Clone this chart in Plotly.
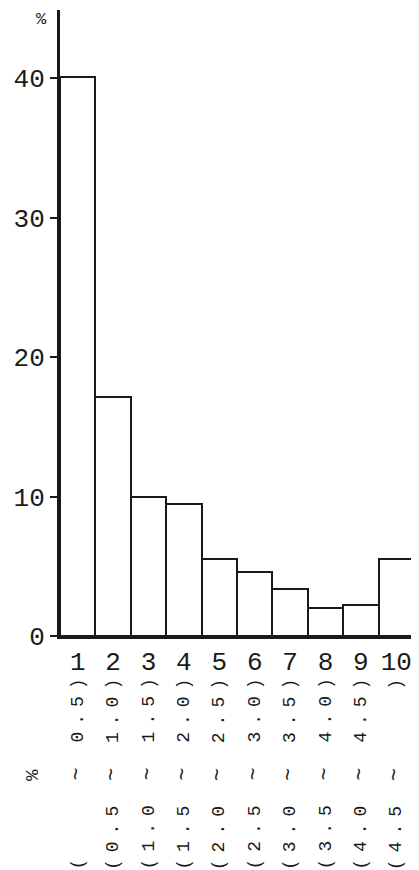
import plotly.graph_objects as go

# class number and share of each class (%)
classes = [1, 2, 3, 4, 5, 6, 7, 8, 9, 10]
share = [40.1, 17.15, 10.0, 9.45, 5.5, 4.6, 3.4, 2.0, 2.25, 5.55]
# class bounds (%) printed under each bar
lower = ["", "0.5", "1.0", "1.5", "2.0", "2.5", "3.0", "3.5", "4.0", "4.5"]
upper = ["0.5", "1.0", "1.5", "2.0", "2.5", "3.0", "3.5", "4.0", "4.5", ""]
y_ticks = [0, 10, 20, 30, 40]

mono = "Liberation Mono"
ink = "#1a1a1a"
nb = "\u00a0"

fig = go.Figure()
fig.add_trace(go.Bar(x=classes, y=share, width=1,
                     marker=dict(color="white", line=dict(color=ink, width=2))))

# spaced out typewriter style range labels, rotated
annots = []
for c, lo, up in zip(classes, lower, upper):
    txt = ("(" + lo.ljust(3) + " ").replace(" ", nb)
    txt += '<span style="font-size:22px">~</span>'
    txt += (" " + up.ljust(3) + ")").replace(" ", nb)
    txt = '<span style="letter-spacing:7px">' + txt + '</span>'
    annots.append(dict(x=c, xref="x", y=-0.2155, yref="paper", text=txt,
                       textangle=-90, showarrow=False, xanchor="center", yanchor="middle",
                       font=dict(family=mono, size=18, color=ink)))
annots.append(dict(x=-0.076, xref="paper", y=-0.222, yref="paper", text="%",
                   textangle=-90, showarrow=False, xanchor="center", yanchor="middle",
                   font=dict(family=mono, size=19, color=ink)))
annots.append(dict(x=-0.051, xref="paper", y=0.985, yref="paper", text="%",
                   showarrow=False, xanchor="center", yanchor="middle",
                   font=dict(family=mono, size=17, color=ink)))

# the page body adds 8px around the figure, so size and margins allow for it
fig.update_layout(
    width=411, height=862,
    margin=dict(l=52, r=5, t=2, b=234),
    paper_bgcolor="white", plot_bgcolor="white",
    showlegend=False, bargap=0,
    annotations=annots,
    xaxis=dict(range=[0.5, 10.5], tickvals=classes, ticktext=[str(c) for c in classes],
               showline=True, linecolor=ink, linewidth=3, showgrid=False, zeroline=False,
               ticks="", automargin=False, tickfont=dict(family=mono, size=26, color=ink)),
    yaxis=dict(range=[0, 44.9], tickvals=y_ticks, showline=True, linecolor=ink, linewidth=3,
               showgrid=False, zeroline=False, ticks="outside", ticklen=7, tickwidth=2,
               tickcolor=ink, automargin=False, tickfont=dict(family=mono, size=26, color=ink)),
)

fig.write_html("out.html")
